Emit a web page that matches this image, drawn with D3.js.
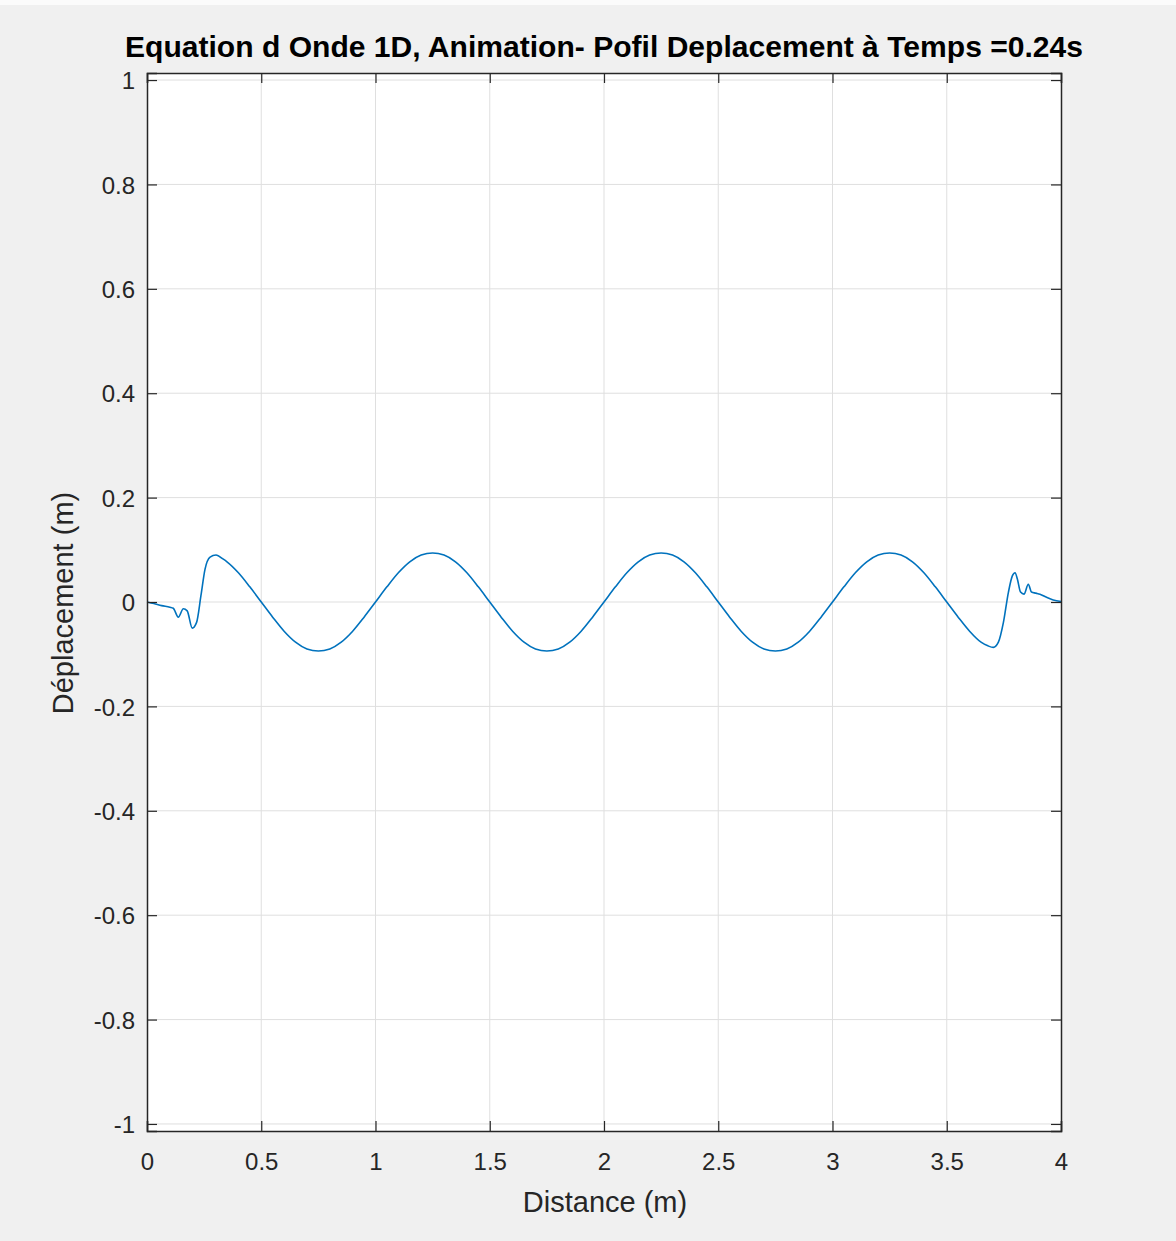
<!DOCTYPE html>
<html>
<head>
<meta charset="utf-8">
<script src="https://cdn.jsdelivr.net/npm/d3@7"></script>
<style>
  body { margin: 0; background: #f0f0f0; }
  text { font-family: "Liberation Sans", Arial, Helvetica, sans-serif; }
</style>
</head>
<body>
<div id="chart"></div>
<script>
// Wave equation snapshot, t = 0.24s

const width = 1176, height = 1241;

// Data
const distance = [
    0, 0.03, 0.064, 0.1, 0.115, 0.137, 0.159, 0.176, 0.198, 0.217, 0.236, 0.254, 0.276, 0.302, 0.334,
    0.35, 0.40, 0.45, 0.50, 0.55, 0.60, 0.65, 0.70, 0.75, 0.80, 0.85, 0.90, 0.95,
    1.00, 1.05, 1.10, 1.15, 1.20, 1.25, 1.30, 1.35, 1.40, 1.45, 1.50, 1.55, 1.60, 1.65, 1.70, 1.75, 1.80, 1.85, 1.90, 1.95,
    2.00, 2.05, 2.10, 2.15, 2.20, 2.25, 2.30, 2.35, 2.40, 2.45, 2.50, 2.55, 2.60, 2.65, 2.70, 2.75, 2.80, 2.85, 2.90, 2.95,
    3.00, 3.05, 3.10, 3.15, 3.20, 3.25, 3.30, 3.35, 3.40, 3.45, 3.50, 3.55, 3.60, 3.65,
    3.68, 3.704, 3.726, 3.748, 3.77, 3.787, 3.799, 3.809, 3.823, 3.838, 3.857, 3.871, 3.89, 3.908, 3.937, 3.966, 4.0
];
const displacement = [
    0, -0.003, -0.007, -0.010, -0.012, -0.029, -0.013, -0.017, -0.050, -0.039, 0.012, 0.063, 0.086, 0.090, 0.082,
    0.077, 0.056, 0.029, 0, -0.029, -0.056, -0.077, -0.090, -0.094, -0.090, -0.077, -0.056, -0.029,
    0, 0.029, 0.056, 0.077, 0.090, 0.094, 0.090, 0.077, 0.056, 0.029, 0, -0.029, -0.056, -0.077, -0.090, -0.094, -0.090, -0.077, -0.056, -0.029,
    0, 0.029, 0.056, 0.077, 0.090, 0.094, 0.090, 0.077, 0.056, 0.029, 0, -0.029, -0.056, -0.077, -0.090, -0.094, -0.090, -0.077, -0.056, -0.029,
    0, 0.029, 0.056, 0.077, 0.090, 0.094, 0.090, 0.077, 0.056, 0.029, 0, -0.029, -0.056, -0.077,
    -0.084, -0.087, -0.077, -0.039, 0.019, 0.050, 0.056, 0.044, 0.019, 0.015, 0.034, 0.019, 0.017, 0.015, 0.009, 0.004, 0.001
];
const xTicks = [0, 0.5, 1, 1.5, 2, 2.5, 3, 3.5, 4];
const yTicks = [-1, -0.8, -0.6, -0.4, -0.2, 0, 0.2, 0.4, 0.6, 0.8, 1];

const titleText = "Equation d Onde 1D, Animation- Pofil Deplacement à Temps =0.24s";
const xLabel = "Distance (m)";
const yLabel = "Déplacement (m)";

const box = { left: 147, right: 1061, top: 73, bottom: 1131 };
const axisColor = "#262626";

const svg = d3.select("#chart")
    .append("svg")
    .attr("width", width)
    .attr("height", height);

// figure background
svg.append("rect").attr("width", width).attr("height", height).attr("fill", "#f0f0f0");
svg.append("rect").attr("width", width).attr("height", 5).attr("fill", "#fbfbfb");

const x = d3.scaleLinear().domain([0, 4]).range([box.left, box.right]);
const y = d3.scaleLinear().domain([-1.0135, 1.0135]).range([box.bottom, box.top]);

// plot area
svg.append("rect")
    .attr("x", box.left).attr("y", box.top)
    .attr("width", box.right - box.left)
    .attr("height", box.bottom - box.top)
    .attr("fill", "#ffffff");

// grid
svg.append("g").selectAll("line")
    .data(xTicks.slice(1, -1))
    .enter().append("line")
    .attr("x1", d => x(d)).attr("x2", d => x(d))
    .attr("y1", box.top).attr("y2", box.bottom)
    .attr("stroke", "#dfdfdf").attr("stroke-width", 1);

svg.append("g").selectAll("line")
    .data(yTicks)
    .enter().append("line")
    .attr("x1", box.left).attr("x2", box.right)
    .attr("y1", d => y(d)).attr("y2", d => y(d))
    .attr("stroke", "#dfdfdf").attr("stroke-width", 1);

// the curve
const points = distance.map((d, i) => [d, displacement[i]]);
const line = d3.line()
    .x(d => x(d[0]))
    .y(d => y(d[1]))
    .curve(d3.curveMonotoneX);

svg.append("path")
    .datum(points)
    .attr("d", line)
    .attr("fill", "none")
    .attr("stroke", "#0072BD")
    .attr("stroke-width", 1.6);

// axes (ticks pointing inwards, box all round)
const tickLen = 10;
const plainFmt = d => String(d);   // MATLAB style: hyphen minus
const bottomAxis = svg.append("g")
    .attr("transform", `translate(0,${box.bottom})`)
    .call(d3.axisBottom(x).tickValues(xTicks).tickSize(-tickLen).tickPadding(22).tickFormat(plainFmt));
const topAxis = svg.append("g")
    .attr("transform", `translate(0,${box.top})`)
    .call(d3.axisTop(x).tickValues(xTicks).tickSize(-tickLen).tickFormat(""));
const leftAxis = svg.append("g")
    .attr("transform", `translate(${box.left},0)`)
    .call(d3.axisLeft(y).tickValues(yTicks).tickSize(-tickLen).tickPadding(12).tickFormat(plainFmt));
const rightAxis = svg.append("g")
    .attr("transform", `translate(${box.right},0)`)
    .call(d3.axisRight(y).tickValues(yTicks).tickSize(-tickLen).tickFormat(""));

[bottomAxis, topAxis, leftAxis, rightAxis].forEach(g => {
    g.select(".domain").attr("stroke", axisColor).attr("stroke-width", 1.5);
    g.selectAll(".tick line").attr("stroke", axisColor).attr("stroke-width", 1.2);
    g.selectAll(".tick text")
        .attr("fill", axisColor)
        .style("font-size", "24px")
        .style("font-family", "'Liberation Sans', Arial, sans-serif");
});
bottomAxis.selectAll(".tick text").attr("dy", "0.71em");
leftAxis.selectAll(".tick text").attr("dy", "0.36em");

// title
svg.append("text")
    .attr("x", (box.left + box.right) / 2)
    .attr("y", 57)
    .attr("text-anchor", "middle")
    .attr("fill", "#000")
    .style("font-size", "29px")
    .style("font-weight", "bold")
    .attr("textLength", 958)
    .attr("lengthAdjust", "spacingAndGlyphs")
    .text(titleText);

// axis labels
svg.append("text")
    .attr("x", 605)
    .attr("y", 1212)
    .attr("text-anchor", "middle")
    .attr("fill", axisColor)
    .style("font-size", "29px")
    .text(xLabel);

svg.append("text")
    .attr("transform", "rotate(-90)")
    .attr("x", -603)
    .attr("y", 73)
    .attr("text-anchor", "middle")
    .attr("fill", axisColor)
    .style("font-size", "29px")
    .text(yLabel);
</script>
</body>
</html>
